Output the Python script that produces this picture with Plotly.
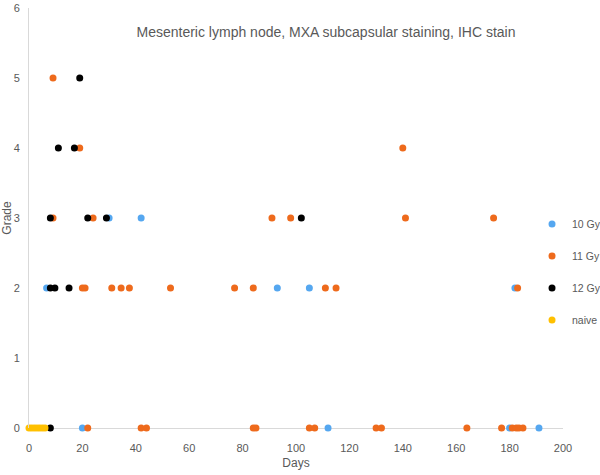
import plotly.graph_objects as go

# ---- data (days, grade) per group ----
gy10_days = [42, 30, 6.6, 93, 105, 182, 20, 112, 180, 191]
gy10_grade = [3, 3, 2, 2, 2, 2, 0, 0, 0, 0]

gy11_days = [9, 19, 140, 9, 24, 91, 98, 141, 174,
             20, 21, 31, 34.5, 37.6, 53, 77, 84, 111, 115, 183,
             22, 42, 44, 84, 85, 105, 107, 130, 132, 164, 177, 181, 182.5, 183.5, 185]
gy11_grade = [5, 4, 4, 3, 3, 3, 3, 3, 3,
              2, 2, 2, 2, 2, 2, 2, 2, 2, 2, 2,
              0, 0, 0, 0, 0, 0, 0, 0, 0, 0, 0, 0, 0, 0, 0]

gy12_days = [19, 11, 17, 8, 22, 29, 102, 8, 9.7, 15, 8]
gy12_grade = [5, 4, 4, 3, 3, 3, 3, 2, 2, 2, 0]

naive_days = [0, 1, 2, 3, 4, 5, 6]
naive_grade = [0, 0, 0, 0, 0, 0, 0]

y_ticks = [0, 1, 2, 3, 4, 5, 6]
x_ticks = [0, 20, 40, 60, 80, 100, 120, 140, 160, 180, 200]

FONT = "Liberation Sans, Arial, sans-serif"
GRAY = "#595959"

series = [
    ("10 Gy", gy10_days, gy10_grade, "#55A7F0"),
    ("11 Gy", gy11_days, gy11_grade, "#EE6A1C"),
    ("12 Gy", gy12_days, gy12_grade, "#000000"),
    ("naive", naive_days, naive_grade, "#FFC000"),
]

fig = go.Figure()
for name, xs, ys, col in series:
    fig.add_trace(go.Scatter(
        x=xs, y=ys, mode="markers", name=name, legendgroup=name,
        marker=dict(color=col, size=7, line=dict(width=0)),
        cliponaxis=False,
    ))

fig.update_layout(
    width=600, height=475,
    margin=dict(l=29, r=37, t=8, b=47, autoexpand=False),
    paper_bgcolor="white", plot_bgcolor="white",
    font=dict(family=FONT, color=GRAY, size=11),
    title=dict(text="Mesenteric lymph node, MXA subcapsular staining, IHC stain",
               x=326 / 600, xanchor="center", y=1 - 32 / 475, yanchor="middle",
               xref="container", yref="container",
               font=dict(family=FONT, size=14, color=GRAY)),
    xaxis=dict(range=[0, 200], tickvals=x_ticks, showgrid=False, zeroline=False,
               showline=False, ticks="", tickfont=dict(size=11, color=GRAY),
               automargin=False, ticklabelstandoff=12,
               title=dict(text="Days", standoff=5, font=dict(size=12, color=GRAY))),
    yaxis=dict(range=[0, 6], tickvals=y_ticks, showgrid=False, zeroline=True,
               zerolinecolor="#D9D9D9", zerolinewidth=1,
               showline=True, linecolor="#D9D9D9", linewidth=1, ticks="",
               tickfont=dict(size=11, color=GRAY), automargin=False,
               ticklabelstandoff=6,
               title=dict(text="Grade", standoff=0, font=dict(size=12, color=GRAY))),
    legend=dict(x=0.942, xanchor="left", y=0.52, yanchor="top",
                font=dict(size=10.5, color=GRAY), tracegroupgap=13,
                itemwidth=30, bgcolor="rgba(0,0,0,0)"),
    showlegend=True,
)

fig.write_html("out.html", config={"displayModeBar": False},
               post_script="document.body.style.margin='0px';")
